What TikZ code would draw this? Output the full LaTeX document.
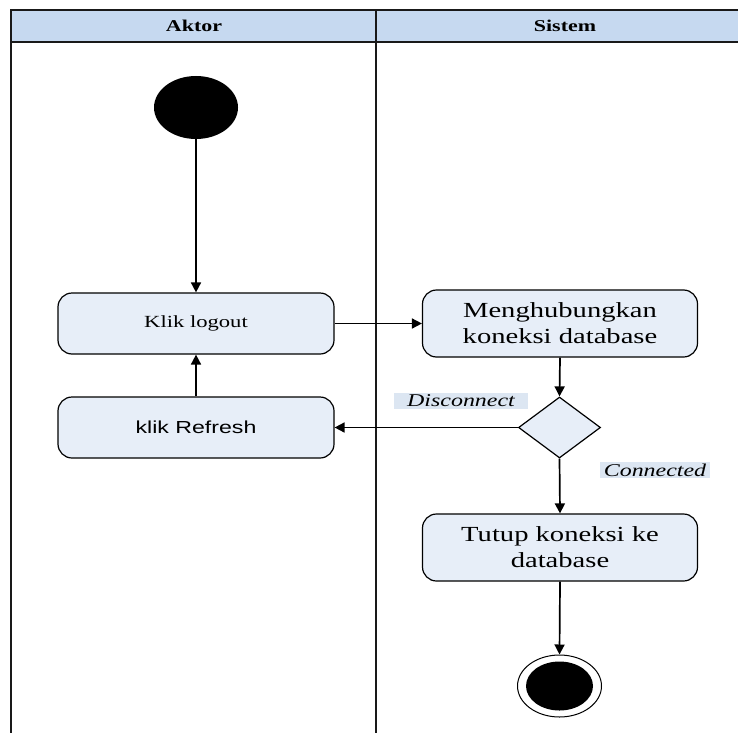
\documentclass[tikz,border=0pt]{standalone}
\usepackage{fontspec}
\setmainfont{Liberation Serif}
% wide-set faces used for every label in the chart
\newfontfamily\serifw[FakeStretch=1.33]{Liberation Serif}
\newfontfamily\sansw[FakeStretch=1.33]{Liberation Sans}
\usetikzlibrary{shapes.geometric,arrows.meta}
\definecolor{headblue}{HTML}{C6D9F0}
\definecolor{actfill}{HTML}{E7EEF8}
\definecolor{tagfill}{HTML}{DCE6F2}
\begin{document}
\begin{tikzpicture}[x=1pt,y=-1pt,
  lane/.style={line width=2pt,draw=black!90},
  activity/.style={draw=black, line width=1.2pt, rounded corners=14pt, fill=actfill,
    inner sep=0pt, align=center},
  smallact/.style={activity, minimum width=276pt, minimum height=61pt},
  bigact/.style={activity, minimum width=275pt, minimum height=67pt,
    font=\serifw\fontsize{21.5}{26}\selectfont},
  flow/.style={line width=1.7pt, -{Triangle[length=10pt,width=10pt]}},
  guard/.style={fill=tagfill, inner sep=2pt,
    font=\serifw\itshape\fontsize{18}{20}\selectfont},
  headtext/.style={font=\serifw\bfseries\fontsize{16.5}{18}\selectfont}]
\useasboundingbox (0,0) rectangle (738,733);

% swimlane frame
\fill[headblue] (11,10) rectangle (738,42);
\draw[lane] (738,10) -- (11,10) -- (11,733);
\draw[lane] (11,42) -- (738,42);
\draw[lane] (376,10) -- (376,733);
\node[headtext] (hakt) at (194,26) {Aktor};
\node[headtext] (hsys) at (565,26) {Sistem};

% initial node
\node[ellipse, fill=black, minimum width=84pt, minimum height=63pt, inner sep=0pt] (start) at (196,107.5) {};

% actions
\node[smallact, font=\serifw\fontsize{17}{20}\selectfont] (logout) at (196,323.5) {Klik logout};
\node[smallact, font=\sansw\fontsize{17.4}{20}\selectfont] (refresh) at (196,427.5) {klik Refresh};
\node[bigact] (connect) at (560,323.5) {Menghubungkan\\koneksi database};
\node[diamond, draw=black, line width=1.2pt, fill=actfill, minimum width=82pt,
  minimum height=61pt, inner sep=0pt] (dec) at (559.5,427.5) {};
\node[bigact] (close) at (560,547.5) {Tutup koneksi ke\\database};

% final node
\node[ellipse, draw=black, line width=1pt, fill=white, minimum width=84pt, minimum height=62pt, inner sep=0pt] (endo) at (559.5,686) {};
\node[ellipse, fill=black, minimum width=67pt, minimum height=49pt, inner sep=0pt] (endi) at (endo.center) {};

% guards
\node[guard, minimum width=134pt] (gdis) at (461,401) {Disconnect};
\node[guard, minimum width=110pt] (gcon) at (655,470) {Connected};

% control flow
\draw[flow] (start.south) -- (logout.north);
\draw[flow] (logout.east) -- (connect.west);
\draw[flow] (connect.south) -- (dec.north);
\draw[flow] (dec.west) -- (refresh.east);
\draw[flow] (refresh.north) -- (logout.south);
\draw[flow] (dec.south) -- (close.north);
\draw[flow] (close.south) -- (endo.north);
\end{tikzpicture}
\end{document}
